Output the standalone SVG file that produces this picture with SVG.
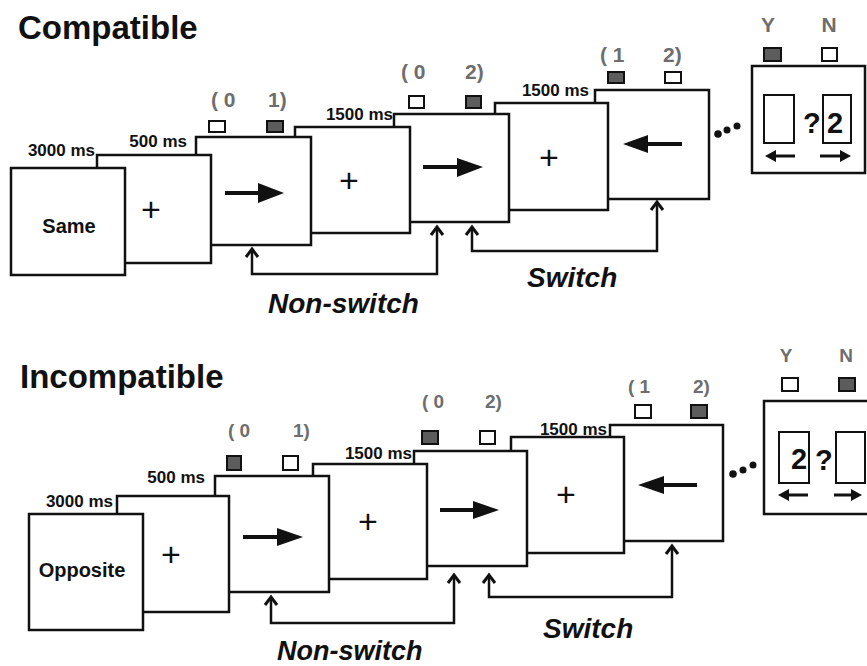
<svg xmlns="http://www.w3.org/2000/svg" width="867" height="666" viewBox="0 0 867 666">
<defs>
<style>
.box{fill:#fff;stroke:#111;stroke-width:2.5}
.in{fill:#fff;stroke:#111;stroke-width:2}
.sw{fill:#fff;stroke:#111;stroke-width:2}
.sd{fill:#5c5c5c;stroke:#111;stroke-width:2}
.ms{font-family:"Liberation Sans",Arial,sans-serif;font-weight:bold;font-size:17px;fill:#111;text-anchor:end}
.lbl{font-family:"Liberation Sans",Arial,sans-serif;font-weight:bold;font-size:21px;fill:#6e6e6e}
.lbl2{font-family:"Liberation Sans",Arial,sans-serif;font-weight:bold;font-size:19px;fill:#6e6e6e}
.title{font-family:"Liberation Sans",Arial,sans-serif;font-weight:bold;font-size:33px;fill:#111}
.cl{font-family:"Liberation Sans",Arial,sans-serif;font-weight:bold;font-style:italic;font-size:28px;fill:#111}
.plus{font-family:"Liberation Sans",Arial,sans-serif;font-size:34px;fill:#111;text-anchor:middle}
.word{font-family:"Liberation Sans",Arial,sans-serif;font-weight:bold;font-size:20px;fill:#111;text-anchor:middle}
.q{font-family:"Liberation Sans",Arial,sans-serif;font-weight:bold;font-size:29px;fill:#111}
.shaft{stroke:#111;stroke-width:4;fill:none}
.sshaft{stroke:#111;stroke-width:3;fill:none}
.head{fill:#111}
.conn{fill:none;stroke:#111;stroke-width:2.5;marker-start:url(#ah);marker-end:url(#ah)}
.dot{fill:#111}
</style>
<marker id="ah" markerUnits="userSpaceOnUse" orient="auto-start-reverse" overflow="visible" markerWidth="12" markerHeight="12" refX="0" refY="0">
<path d="M-8,-6 L0,0 L-8,6" fill="none" stroke="#111" stroke-width="3"/>
</marker>
</defs>
<rect width="867" height="666" fill="#fff"/>

<text class="title" x="18" y="39">Compatible</text>
<text class="title" x="20" y="388">Incompatible</text>

<!-- Top sequence -->
<g id="top-final">
<text class="lbl" x="768" y="32" text-anchor="middle">Y</text>
<text class="lbl" x="829" y="32" text-anchor="middle">N</text>
<rect class="sd" x="764" y="48" width="17" height="13"/>
<rect class="sw" x="822" y="48" width="15" height="13"/>
<rect class="box" x="752" y="66" width="113" height="107"/>
<rect class="in" x="764" y="95" width="30" height="48"/>
<rect class="in" x="823" y="95" width="28" height="48"/>
<text class="q" x="803" y="133">?</text>
<text class="q" x="827" y="133">2</text>
<path class="sshaft" d="M795,156 H772"/>
<polygon class="head" points="776,150 765,156 776,162"/>
<path class="sshaft" d="M820,156 H843"/>
<polygon class="head" points="840,150 851,156 840,162"/>
<circle class="dot" cx="718" cy="134" r="3.8"/>
<circle class="dot" cx="727" cy="130" r="3.5"/>
<circle class="dot" cx="737" cy="126" r="3.5"/>
</g>
<g id="top-b7">
<text class="ms" x="589" y="96">1500 ms</text>
<text class="lbl" x="600" y="62">( 1</text>
<text class="lbl" x="663" y="62">2)</text>
<rect class="sd" x="608" y="72" width="16" height="11"/>
<rect class="sw" x="665" y="72" width="16" height="11"/>
<rect class="box" x="595" y="90" width="114" height="109"/>
<path class="shaft" d="M682,144 H645"/>
<polygon class="head" points="648,135 623,144 648,153"/>
</g>
<g id="top-b6">
<rect class="box" x="495" y="103" width="113" height="107"/>
<text class="plus" x="549" y="169">+</text>
</g>
<g id="top-b5">
<text class="ms" x="393" y="120">1500 ms</text>
<text class="lbl" x="401" y="79">( 0</text>
<text class="lbl" x="465" y="79">2)</text>
<rect class="sw" x="409" y="96" width="15" height="12"/>
<rect class="sd" x="466" y="96" width="15" height="12"/>
<rect class="box" x="394" y="114" width="115" height="108"/>
<path class="shaft" d="M423,167 H460"/>
<polygon class="head" points="457,158 483,167 457,177"/>
</g>
<g id="top-b4">
<rect class="box" x="295" y="127" width="115" height="106"/>
<text class="plus" x="349" y="192">+</text>
</g>
<g id="top-b3">
<text class="ms" x="187" y="147">500 ms</text>
<text class="lbl" x="211" y="107">( 0</text>
<text class="lbl" x="268" y="107">1)</text>
<rect class="sw" x="209" y="121" width="16" height="11"/>
<rect class="sd" x="267" y="121" width="16" height="11"/>
<rect class="box" x="196" y="137" width="115" height="108"/>
<path class="shaft" d="M225,193 H262"/>
<polygon class="head" points="258,183 284,193 258,203"/>
</g>
<g id="top-b2">
<rect class="box" x="97" y="155" width="114" height="108"/>
<text class="plus" x="151" y="221">+</text>
</g>
<g id="top-b1">
<text class="ms" x="95" y="156">3000 ms</text>
<rect class="box" x="11" y="168" width="114" height="107"/>
<text class="word" x="69" y="233">Same</text>
</g>

<!-- Bottom sequence -->
<g id="bot-final">
<text class="lbl2" x="786" y="362" text-anchor="middle">Y</text>
<text class="lbl2" x="846" y="362" text-anchor="middle">N</text>
<rect class="sw" x="782" y="378" width="16" height="13"/>
<rect class="sd" x="839" y="378" width="16" height="13"/>
<rect class="box" x="764" y="401" width="120" height="113"/>
<rect class="in" x="779" y="432" width="30" height="51"/>
<rect class="in" x="836" y="432" width="29" height="51"/>
<text class="q" x="791" y="469">2</text>
<text class="q" x="815" y="470">?</text>
<path class="sshaft" d="M808,495 H786"/>
<polygon class="head" points="789,489 778,495 789,501"/>
<path class="sshaft" d="M834,495 H854"/>
<polygon class="head" points="851,489 862,495 851,501"/>
<circle class="dot" cx="733" cy="474" r="3.8"/>
<circle class="dot" cx="743" cy="470" r="3.5"/>
<circle class="dot" cx="753" cy="465" r="3.5"/>
</g>
<g id="bot-b7">
<text class="ms" x="607" y="435">1500 ms</text>
<text class="lbl2" x="628" y="393">( 1</text>
<text class="lbl2" x="693" y="393">2)</text>
<rect class="sw" x="635" y="405" width="16" height="13"/>
<rect class="sd" x="691" y="405" width="16" height="13"/>
<rect class="box" x="610" y="425" width="113" height="116"/>
<path class="shaft" d="M697,485 H661"/>
<polygon class="head" points="664,476 638,485 664,494"/>
</g>
<g id="bot-b6">
<rect class="box" x="511" y="437" width="113" height="116"/>
<text class="plus" x="566" y="506">+</text>
</g>
<g id="bot-b5">
<text class="ms" x="412" y="459">1500 ms</text>
<text class="lbl2" x="422" y="408">( 0</text>
<text class="lbl2" x="485" y="408">2)</text>
<rect class="sd" x="422" y="431" width="16" height="13"/>
<rect class="sw" x="480" y="431" width="15" height="13"/>
<rect class="box" x="414" y="451" width="113" height="115"/>
<path class="shaft" d="M440,510 H476"/>
<polygon class="head" points="473,501 499,510 473,519"/>
</g>
<g id="bot-b4">
<rect class="box" x="313" y="464" width="114" height="115"/>
<text class="plus" x="368" y="533">+</text>
</g>
<g id="bot-b3">
<text class="ms" x="205" y="483">500 ms</text>
<text class="lbl2" x="228" y="437">( 0</text>
<text class="lbl2" x="293" y="437">1)</text>
<rect class="sd" x="227" y="456" width="14" height="14"/>
<rect class="sw" x="283" y="456" width="15" height="14"/>
<rect class="box" x="215" y="476" width="114" height="116"/>
<path class="shaft" d="M243,537 H280"/>
<polygon class="head" points="277,528 303,537 277,546"/>
</g>
<g id="bot-b2">
<rect class="box" x="117" y="496" width="112" height="116"/>
<text class="plus" x="171" y="566">+</text>
</g>
<g id="bot-b1">
<text class="ms" x="113" y="507">3000 ms</text>
<rect class="box" x="29" y="514" width="114" height="116"/>
<text class="word" x="82" y="577">Opposite</text>
</g>

<g id="connectors">
<path class="conn" d="M252,249 V274 H437 V227"/>
<path class="conn" d="M472,227 V251 H657 V202"/>
<path class="conn" d="M271,597 V623 H454 V575"/>
<path class="conn" d="M489,575 V597 H672 V546"/>
<text class="cl" x="527" y="287">Switch</text>
<text class="cl" x="268" y="313">Non-switch</text>
<text class="cl" x="543" y="638">Switch</text>
<text class="cl" x="277" y="660" style="font-size:27px">Non-switch</text>
</g>
</svg>
